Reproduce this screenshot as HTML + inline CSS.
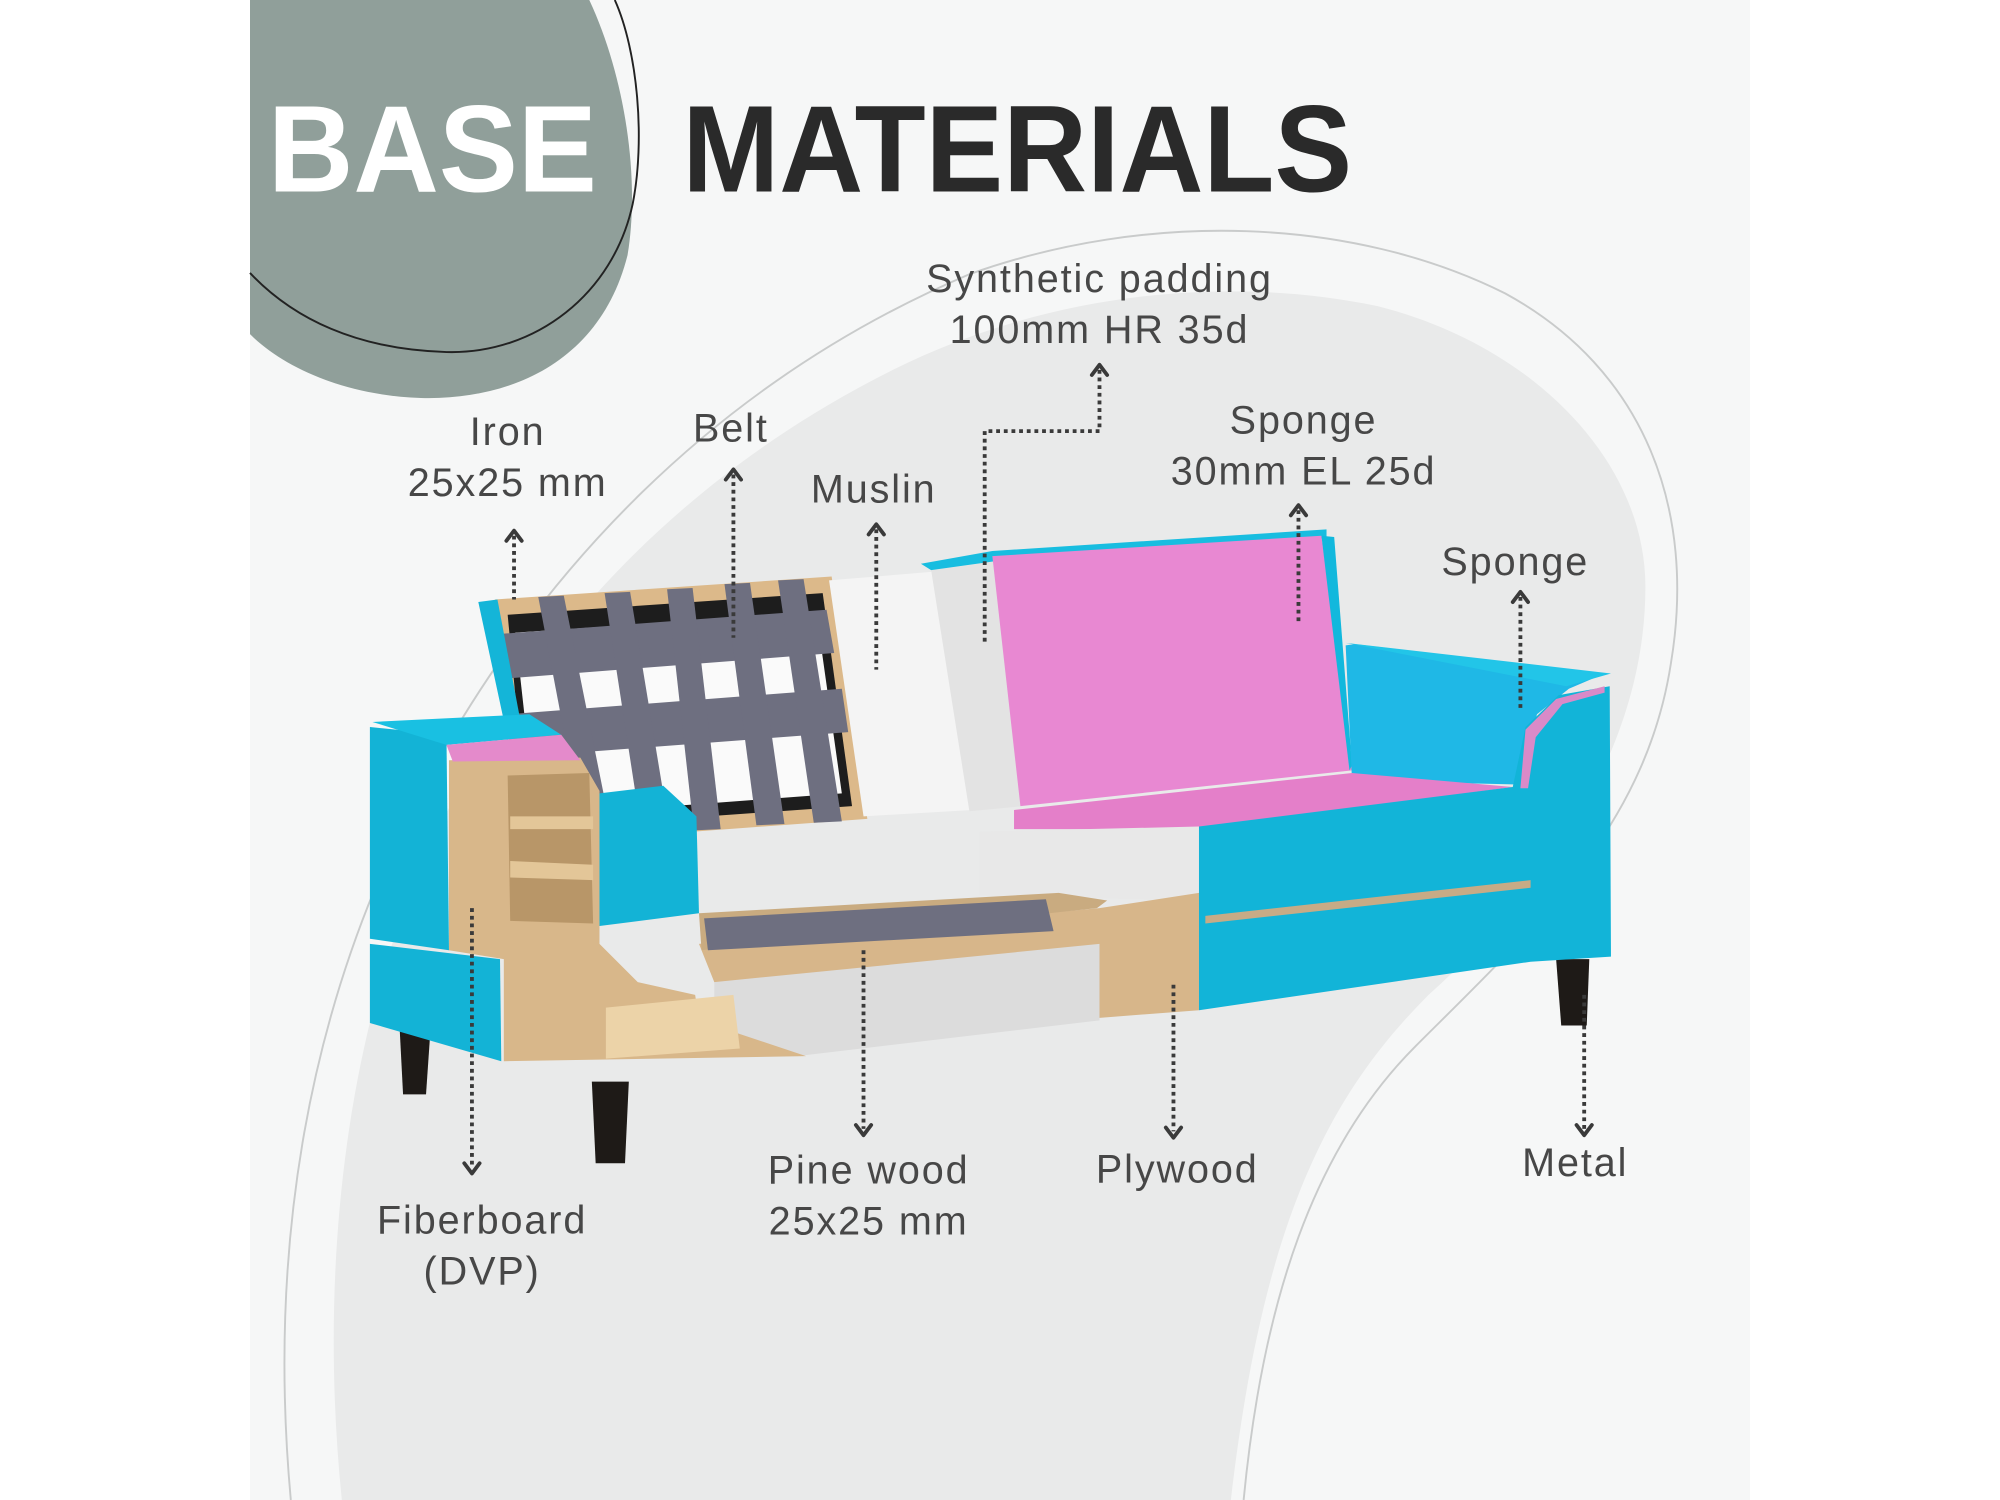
<!DOCTYPE html>
<html><head><meta charset="utf-8"><style>
html,body{margin:0;padding:0;background:#fff;}
svg{display:block}
text{font-family:"Liberation Sans","DejaVu Sans",sans-serif;}
.lb{font-size:31px;fill:#474747;text-anchor:middle;letter-spacing:1.5px}
.dl{stroke:#3a3a3a;stroke-width:3;stroke-dasharray:3 3;fill:none}
.ar{stroke:#3a3a3a;stroke-width:3;fill:none;stroke-linecap:round;stroke-linejoin:round}
</style></head><body>
<svg width="2000" height="1500" viewBox="0 0 1568 1176" xmlns="http://www.w3.org/2000/svg">
<rect x="0" y="0" width="1568" height="1176" fill="#fff"/>
<rect x="196" y="0" width="1176" height="1176" fill="#f6f7f7"/>
<path d="M268,1176 C250,1000 270,820 330,680 C400,520 520,380 700,290 C820,230 960,215 1080,240 C1200,270 1290,360 1290,460 C1290,580 1220,690 1120,780 C1040,860 990,960 965,1176 Z" fill="#e9eaea"/>
<path d="M228,1176 C210,980 240,790 330,620 C420,450 560,300 760,215 C900,165 1060,170 1180,230 C1290,290 1330,400 1310,520 C1290,650 1200,730 1110,820 C1030,900 990,1020 975,1176" fill="none" stroke="#c9cbcb" stroke-width="1.5"/>
<path d="M196,0 L462,0 C490,60 502,140 492,200 C472,280 405,314 330,312 C270,310 222,288 196,262 Z" fill="#909f9a"/>
<path d="M482,0 C500,40 506,110 496,160 C481,230 420,278 350,276 C280,274 230,250 196,214" fill="none" stroke="#222" stroke-width="1.5"/>
<text x="210" y="150" font-size="97" font-weight="bold" fill="#fff" textLength="258" lengthAdjust="spacingAndGlyphs">BASE</text>
<text x="535" y="150" font-size="97" font-weight="bold" fill="#2a2a2a" textLength="525" lengthAdjust="spacingAndGlyphs">MATERIALS</text>

<polygon points="560,750 862,735 862,800 625,828 560,820" fill="#dcdcdc"/>
<polygon points="313,800 338,800 334,858 316,858" fill="#1e1a17"/>
<polygon points="464,848 493,848 490,912 467,912" fill="#1e1a17"/>
<polygon points="1220,752 1246,752 1244,804 1224,804" fill="#1e1a17"/>
<polygon points="388,470 652,452 680,642 408,662" fill="#dcb98a"/>
<polygon points="398,482 645,465 668,632 414,650" fill="#1d1d1d"/>
<polygon points="404,496 640,480 660,622 420,640" fill="#fafafa"/>
<g fill="#6e6f80">
<polygon points="392,497 648,478 654,512 396,532"/>
<polygon points="398,560 660,540 665,574 400,594"/>
<polygon points="422,468 442,467 480,656 458,657"/>
<polygon points="474,465 494,464 525,652 503,653"/>
<polygon points="523,462 543,461 565,650 544,651"/>
<polygon points="568,458 588,457 615,646 593,647"/>
<polygon points="610,455 630,454 660,644 638,645"/>
</g>
<polygon points="375,472 390,470 408,565 395,565" fill="#14b5d8"/>
<polygon points="650,455 735,448 762,635 677,640" fill="#f4f4f4"/>
<polygon points="730,447 782,440 802,632 760,636" fill="#e3e3e3"/>
<polygon points="722,442 778,432 1040,415 1040,422 780,440 730,447" fill="#18bde0"/>
<polygon points="778,436 1036,420 1060,604 800,632" fill="#e888d2"/>
<polygon points="1036,420 1046,421 1060,600 1058,604" fill="#12b8dd"/>
<polygon points="1055,506 1062,505 1258,528 1230,540 1205,560 1190,615 1060,612" fill="#1fb8e6"/>
<polygon points="1055,504 1263,528 1228,538" fill="#22c5e8"/>
<polygon points="795,635 1060,606 1186,617 940,650 795,650" fill="#e47fc9"/>
<polygon points="768,652 940,648 940,706 768,702" fill="#e8e8e8"/>
<polygon points="548,740 862,712 940,700 940,792 862,798 862,740 560,770" fill="#d7b68a"/>
<polygon points="548,716 830,700 868,706 860,712 550,745" fill="#c9ab80"/>
<polygon points="552,720 820,705 826,730 555,745" fill="#6e6f80"/>
<polygon points="940,648 1186,617 1196,570 1222,545 1262,538 1263,750 1200,754 940,792" fill="#12b4d8"/>
<polygon points="1196,572 1220,548 1258,538 1258,543 1225,552 1204,578 1198,618 1192,618" fill="#d98ac8"/>
<polygon points="945,718 1200,690 1200,696 945,724" fill="#c7ab86"/>
<polygon points="352,596 455,594 470,620 470,740 500,770 545,780 548,800 632,828 395,832 395,752 352,745" fill="#d8b78a"/>
<polygon points="398,608 462,606 465,724 400,722" fill="#b89668"/>
<polygon points="400,640 465,640 465,650 400,650" fill="#e3c698"/>
<polygon points="400,675 465,678 465,690 400,688" fill="#e3c698"/>
<polygon points="475,790 575,780 580,822 475,830" fill="#ecd3a8"/>
<polygon points="290,570 350,576 352,745 290,736" fill="#13b3d6"/>
<polygon points="290,740 392,752 393,832 290,802" fill="#13b3d6"/>
<polygon points="292,566 415,560 440,576 350,584" fill="#19c0e2"/>
<polygon points="350,584 440,576 455,596 355,597" fill="#e48acb"/>
<polygon points="470,622 520,616 546,640 548,716 470,726" fill="#13b3d6"/>

<path class="dl" d="M403,420 V470"/><path class="ar" d="M397,424 L403,416 L409,424"/>
<path class="dl" d="M575,372 V500"/><path class="ar" d="M569,376 L575,368 L581,376"/>
<path class="dl" d="M687,415 V525"/><path class="ar" d="M681,419 L687,411 L693,419"/>
<path class="dl" d="M862,290 V338 H772 V505"/><path class="ar" d="M856,294 L862,286 L868,294"/>
<path class="dl" d="M1018,400 V490"/><path class="ar" d="M1012,404 L1018,396 L1024,404"/>
<path class="dl" d="M1192,468 V555"/><path class="ar" d="M1186,472 L1192,464 L1198,472"/>
<path class="dl" d="M370,712 V915"/><path class="ar" d="M364,912 L370,920 L376,912"/>
<path class="dl" d="M677,745 V885"/><path class="ar" d="M671,882 L677,890 L683,882"/>
<path class="dl" d="M920,772 V887"/><path class="ar" d="M914,884 L920,892 L926,884"/>
<path class="dl" d="M1242,780 V885"/><path class="ar" d="M1236,882 L1242,890 L1248,882"/>

<text class="lb" x="862" y="229">Synthetic padding</text>
<text class="lb" x="862" y="269">100mm HR 35d</text>
<text class="lb" x="398" y="349">Iron</text>
<text class="lb" x="398" y="389">25x25 mm</text>
<text class="lb" x="573" y="346">Belt</text>
<text class="lb" x="685" y="394">Muslin</text>
<text class="lb" x="1022" y="340">Sponge</text>
<text class="lb" x="1022" y="380">30mm EL 25d</text>
<text class="lb" x="1188" y="451">Sponge</text>
<text class="lb" x="378" y="967">Fiberboard</text>
<text class="lb" x="378" y="1007">(DVP)</text>
<text class="lb" x="681" y="928">Pine wood</text>
<text class="lb" x="681" y="968">25x25 mm</text>
<text class="lb" x="923" y="927">Plywood</text>
<text class="lb" x="1235" y="922">Metal</text>
</svg>
</body></html>
